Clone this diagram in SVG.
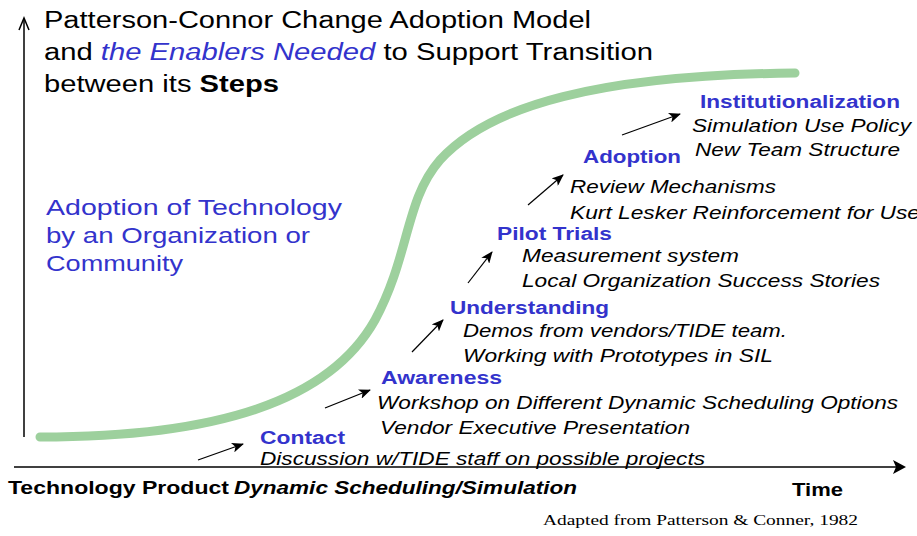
<svg xmlns="http://www.w3.org/2000/svg" width="917" height="536" viewBox="0 0 917 536">
<style>
text{font-family:"Liberation Sans",Arial,sans-serif}
text.serif{font-family:"Liberation Serif","Times New Roman",serif;font-size:15px;fill:#000}
.title{font-size:23px;fill:#000}
.blue{fill:#3333cc}
.stage{font-size:18px;font-weight:bold;fill:#3333cc}
.item{font-size:19px;font-style:italic;fill:#000}
.side{font-size:22px;fill:#3333cc}
.axislbl{font-size:19px;font-weight:bold;fill:#000}
.conn{stroke:#000;stroke-width:1.2;fill:none;marker-end:url(#ah)}
</style>
<defs>
<marker id="ah" markerWidth="12" markerHeight="10" refX="11" refY="5" orient="auto" markerUnits="userSpaceOnUse">
<path d="M0,0 L12,5 L0,10 L3,5 Z" fill="#000"/>
</marker>
</defs>
<rect width="917" height="536" fill="#fff"/>
<g id="axes">
<line x1="24" y1="437" x2="24" y2="20" stroke="#000" stroke-width="1.5"/>
<path d="M19,30 L24,18 L29,30" stroke="#000" stroke-width="1.5" fill="none"/>
<line x1="14" y1="467" x2="898" y2="467" stroke="#000" stroke-width="1.5"/>
<path d="M893,460 L906,467 L893,474 L896,467 Z" fill="#000"/>
</g>
<path id="curve" d="M40,437 C220,437 330,400 375,320 C410,255 405,200 440,160 C490,105 600,75 795,73" stroke="#9dd09d" stroke-width="9" fill="none" stroke-linecap="round"/>
<g id="title">
<text class="title" x="44" y="28" textLength="547" lengthAdjust="spacingAndGlyphs">Patterson-Connor Change Adoption Model</text>
<text class="title" x="44" y="60" textLength="609" lengthAdjust="spacingAndGlyphs">and <tspan class="blue" font-style="italic">the Enablers Needed</tspan> to Support Transition</text>
<text class="title" x="44" y="92" textLength="235" lengthAdjust="spacingAndGlyphs">between its <tspan font-weight="bold">Steps</tspan></text>
</g>
<g id="yaxis-label">
<text class="side" x="46" y="215" textLength="296" lengthAdjust="spacingAndGlyphs">Adoption of Technology</text>
<text class="side" x="46" y="243" textLength="264" lengthAdjust="spacingAndGlyphs">by an Organization or</text>
<text class="side" x="46" y="271" textLength="137" lengthAdjust="spacingAndGlyphs">Community</text>
</g>
<g id="institutionalization">
<text class="stage" x="700" y="108" textLength="200" lengthAdjust="spacingAndGlyphs">Institutionalization</text>
<text class="item" x="692" y="132" textLength="219" lengthAdjust="spacingAndGlyphs">Simulation Use Policy</text>
<text class="item" x="695" y="156" textLength="205" lengthAdjust="spacingAndGlyphs">New Team Structure</text>
</g>
<g id="adoption">
<text class="stage" x="583" y="163" textLength="98" lengthAdjust="spacingAndGlyphs">Adoption</text>
<text class="item" x="570" y="193" textLength="206" lengthAdjust="spacingAndGlyphs">Review Mechanisms</text>
<text class="item" x="570" y="219" textLength="350" lengthAdjust="spacingAndGlyphs">Kurt Lesker Reinforcement for Use</text>
</g>
<g id="pilot-trials">
<text class="stage" x="497" y="240" textLength="115" lengthAdjust="spacingAndGlyphs">Pilot Trials</text>
<text class="item" x="522" y="262" textLength="217" lengthAdjust="spacingAndGlyphs">Measurement system</text>
<text class="item" x="522" y="287" textLength="358" lengthAdjust="spacingAndGlyphs">Local Organization Success Stories</text>
</g>
<g id="understanding">
<text class="stage" x="450" y="314" textLength="159" lengthAdjust="spacingAndGlyphs">Understanding</text>
<text class="item" x="463" y="337" textLength="324" lengthAdjust="spacingAndGlyphs">Demos from vendors/TIDE team.</text>
<text class="item" x="463" y="362" textLength="310" lengthAdjust="spacingAndGlyphs">Working with Prototypes in SIL</text>
</g>
<g id="awareness">
<text class="stage" x="381" y="384" textLength="121" lengthAdjust="spacingAndGlyphs">Awareness</text>
<text class="item" x="377" y="409" textLength="521" lengthAdjust="spacingAndGlyphs">Workshop on Different Dynamic Scheduling Options</text>
<text class="item" x="380" y="434" textLength="310" lengthAdjust="spacingAndGlyphs">Vendor Executive Presentation</text>
</g>
<g id="contact">
<text class="stage" x="260" y="444" textLength="85" lengthAdjust="spacingAndGlyphs">Contact</text>
<text class="item" x="260" y="465" font-size="18" textLength="445" lengthAdjust="spacingAndGlyphs">Discussion w/TIDE staff on possible projects</text>
</g>
<g id="connectors">
<line class="conn" x1="198" y1="460" x2="243" y2="444"/>
<line class="conn" x1="325" y1="408" x2="370" y2="390"/>
<line class="conn" x1="412" y1="352" x2="443" y2="320"/>
<line class="conn" x1="468" y1="283" x2="492" y2="252"/>
<line class="conn" x1="528" y1="205" x2="563" y2="175"/>
<line class="conn" x1="622" y1="135" x2="680" y2="114"/>
</g>
<g id="xaxis-labels">
<text class="axislbl" x="8" y="494" textLength="221" lengthAdjust="spacingAndGlyphs">Technology Product</text>
<text class="axislbl blue" x="234" y="494" font-style="italic" textLength="343" lengthAdjust="spacingAndGlyphs">Dynamic Scheduling/Simulation</text>
<text class="axislbl" x="792" y="496" textLength="51" lengthAdjust="spacingAndGlyphs">Time</text>
<text class="serif" x="543" y="525" textLength="315" lengthAdjust="spacingAndGlyphs">Adapted from Patterson &amp; Conner, 1982</text>
</g>
</svg>
